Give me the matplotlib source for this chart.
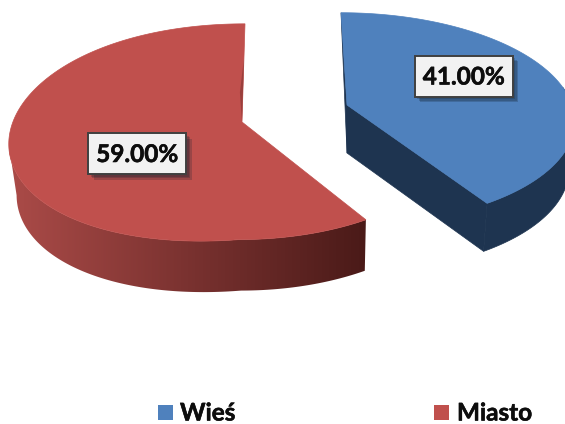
import numpy as np
import matplotlib
matplotlib.use('Agg')
import matplotlib.pyplot as plt
from matplotlib.colors import LinearSegmentedColormap
from matplotlib.patches import Polygon, Rectangle
import matplotlib.patheffects as pe

labels = ['Wieś', 'Miasto']
values = [41.0, 59.0]
value_labels = ['41.00%', '59.00%']

plt.rcParams['font.family'] = ['Lato', 'DejaVu Sans']

START = 0
centers = [(347, 105), (242, 122)]
depth = [48, 51]
low_shift = [0, 2]
rad_left = [225, 232]
rad_right = [225, 218]
rad_y = [104, 107]
persp = [0.127, 0.09]
lean = [-6, 3]
tilt = [0, 20]
top_colors = ['#4f81bd', '#c0504d']
side_maps = [['#1e3450', '#1e3450'], ['#ab4b48', '#7a3230', '#4a1a18']]
sliver_colors = ['#1e3450', '#9a3f3c']
label_pos = [(463.5, 76), (137, 153.5)]
legend_x = [158, 434]
legend_text_x = [180, 457]


def rim(i, deg):
    a = np.radians(deg)
    sx, cy_ = np.sin(a), np.cos(a)
    w = 1 + persp[i] * cy_
    rx = np.where(sx < 0, rad_left[i], rad_right[i])
    # lower left of the big slice sags a little
    sag = np.where(sx < 0, -sx * (1 - cy_) / 2 * tilt[i], 0)
    return (centers[i][0] + rx * sx / w + lean[i] * cy_,
            centers[i][1] - rad_y[i] * cy_ / w + sag)


def lower(i, pts):
    # bottom edge is a bit narrower than the top face
    pts = np.atleast_2d(pts).astype(float)
    out = pts.copy()
    out[:, 0] = centers[i][0] + low_shift[i] + (pts[:, 0] - centers[i][0]) * 0.975
    out[:, 1] = pts[:, 1] + depth[i]
    return out


fig = plt.figure(figsize=(5.65, 4.24), dpi=100)
ax = fig.add_axes([0, 0, 1, 1])

angle = START
for i, v in enumerate(values):
    sweep = v / sum(values) * 360
    a0, a1 = angle, angle + sweep
    angle = a1
    cx, cy = centers[i]
    t = np.linspace(a0, a1, 300)
    arc = np.column_stack(rim(i, t))
    top = np.vstack([[cx, cy], arc])

    # outer wall, only the part that faces the viewer
    tw = np.linspace(max(a0, 80), min(a1, 264), 300)
    upper = np.column_stack(rim(i, tw))
    wall = np.vstack([upper, lower(i, upper)[::-1]])
    if i == 0:
        ax.add_patch(Polygon(wall, closed=True, fc='#1e3450', ec='#1e3450', lw=0.5, zorder=1))
        # cut face of the blue slice, plus its thin strip on the left
        end = arc[-1]
        face = np.vstack([[cx, cy], end, lower(i, end), lower(i, [cx, cy])])
        ax.add_patch(Polygon(face, closed=True, fc='#1e3450', ec='#1e3450', lw=0.5, zorder=1))
        strip = np.vstack([arc[0], [cx, cy], lower(i, [cx, cy])])
        ax.add_patch(Polygon(strip, closed=True, fc='#1e3450', ec='#1e3450', lw=0.5, zorder=1))
    else:
        cmap = LinearSegmentedColormap.from_list('side%d' % i, side_maps[i])
        grad = np.linspace(0, 1, 256).reshape(1, -1)
        poly = Polygon(wall, closed=True, fc='none', ec='none')
        ax.add_patch(poly)
        im = ax.imshow(grad, extent=(wall[:, 0].min(), wall[:, 0].max(), 424, 0),
                       cmap=cmap, aspect='auto', zorder=1)
        im.set_clip_path(poly)

    ax.add_patch(Polygon(top, closed=True, fc=top_colors[i], ec=top_colors[i], lw=0.5, zorder=2))

    # thin dark strip along the red cut edge
    if i == 1:
        e = arc[-1] - np.array([cx, cy])
        strip = np.array([[cx, cy], [cx, cy] + e * 0.65, [cx, cy] + e * 0.3 - [3, 0]])
        ax.add_patch(Polygon(strip, closed=True, fc=sliver_colors[i], ec='none', zorder=2.5))

    shadow = [pe.SimplePatchShadow(offset=(o, -o), shadow_rgbFace='#10202f', alpha=0.22)
              for o in (4, 3, 2)] + [pe.Normal()]
    bx, by = label_pos[i]
    ax.add_patch(Rectangle((bx - 49, by - 20.5), 98, 41, fc='#f2f2f2', ec='#404040', lw=1.4,
                           zorder=4, path_effects=shadow))
    ax.text(bx, by + 1, value_labels[i], fontsize=17.5, fontweight='bold',
            ha='center', va='center', color='#0d0d0d', zorder=5,
            path_effects=[pe.withStroke(linewidth=0.4, foreground='#0d0d0d')])

    ax.add_patch(Rectangle((legend_x[i], 405), 15, 15, fc=top_colors[i], ec='none', zorder=3))
    ax.text(legend_text_x[i], 413, labels[i], fontsize=17.5, fontweight='bold',
            ha='left', va='center', color='#0d0d0d', zorder=3,
            path_effects=[pe.withStroke(linewidth=0.4, foreground='#0d0d0d')])

ax.set_xlim(0, 565)
ax.set_ylim(424, 0)
ax.axis('off')
fig.savefig('out.png', dpi=100)
